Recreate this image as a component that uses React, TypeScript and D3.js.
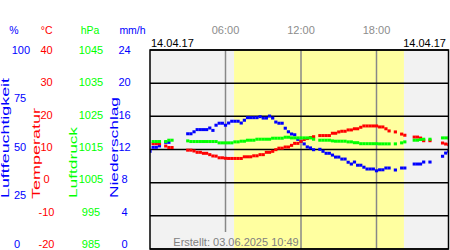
import React from "react";
import * as d3 from "d3";

const timeTickHours = [6, 12, 18];
const timeTickLabels = ["06:00", "12:00", "18:00"];
const dateLabel = "14.04.17";
const createdLabel = "Erstellt: 03.06.2025 10:49";
const sunriseHour = 6.68;
const sunsetHour = 20.18;

const humidityTicks = [100, 75, 50, 25, 0];
const temperatureTicks = [40, 30, 20, 10, 0, -10, -20];
const pressureTicks = [1045, 1035, 1025, 1015, 1005, 995, 985];
const precipTicks = [24, 20, 16, 12, 8, 4, 0];

// 15-minute samples, 00:00 .. 23:45
const humidity: (number | null)[] = [
  49.1, 51.1, 51.1, 51.8, null, 53.6, 53.6, null, null, null, null, null,
  57.9, 57.9, 58.9, 60.0, 60.0, 60.0, 60.0, 60.8, 59.6, 62.2, 63.2, 63.2,
  62.2, 63.3, 64.2, 64.2, 64.2, 63.3, 64.7, 66.0, 66.0, 66.0, 66.0, 66.5,
  65.8, 65.8, 66.8, 65.8, 63.8, 63.2, 63.2, 60.7, 58.9, 57.8, 57.4, 55.1,
  54.1, 52.8, 51.3, 50.8, 49.9, null, 50.1, 49.1, 48.1, 48.1, 47.2, 46.2,
  46.2, 45.2, 45.2, 43.6, 42.7, 43.7, 42.1, 42.1, 41.1, 40.2, 40.2, 40.2,
  39.3, 39.8, 39.8, 40.7, 40.7, null, 39.7, null, 40.7, 40.7, null, null,
  42.7, 42.7, 42.7, 43.7, null, 43.7, null, null, null, 46.6, 48.2, 49.1,
];

const temperature: (number | null)[] = [
  null, 11.75, 11.75, 11.75, null, 11.05, 10.6, 10.6, null, null, null, null,
  9.8, 9.8, 9.55, 9.15, 9.15, 8.85, 8.85, 8.45, 8.05, 8.0, 7.5, 7.5,
  7.35, 7.3, 7.3, 7.3, 7.3, 7.3, 7.8, 7.8, 7.8, 8.1, 8.1, 8.45,
  8.45, 9.15, 9.15, 9.45, 9.95, 10.4, 10.4, 10.75, 10.75, 11.25, 11.85, 11.85,
  12.45, 13.0, 13.3, 13.6, 13.85, null, 14.2, 14.2, 14.2, 14.2, 14.9, 14.9,
  15.3, 15.5, 15.5, 15.9, 15.9, 16.25, 16.25, 16.7, 17.1, 17.1, 17.1, 17.1,
  17.1, 16.8, 16.8, 16.25, 15.6, null, 15.3, null, 14.65, 14.3, null, null,
  13.75, 13.75, 13.45, 12.65, null, 12.65, null, null, null, 11.95, 11.65, 11.45,
];

const pressure: (number | null)[] = [
  null, 1017.4, 1017.4, 1017.4, null, 1017.4, 1017.8, 1017.8, null, null, null, null,
  1017.6, 1017.4, 1017.4, 1017.4, 1017.4, 1017.4, 1017.4, 1017.4, 1017.4, 1017.4, 1017.0, 1017.0,
  1017.0, 1017.0, 1017.0, 1017.3, 1017.3, 1017.5, 1017.5, 1017.8, 1017.8, 1017.8, 1018.1, 1018.1,
  1018.1, 1018.1, 1018.1, 1018.4, 1018.4, 1018.4, 1018.4, 1018.7, 1018.7, 1018.5, 1018.5, 1018.5,
  1018.5, 1018.5, 1018.5, 1018.5, 1018.1, null, 1017.8, 1017.8, 1017.8, 1017.8, 1017.6, 1017.5,
  1017.5, 1017.5, 1017.5, 1017.3, 1017.3, 1017.05, 1017.05, 1016.75, 1016.75, 1016.75, 1016.75, 1016.75,
  1016.75, 1016.7, 1016.7, 1016.7, 1016.7, null, 1016.7, null, 1017.0, 1017.3, null, null,
  1017.8, 1017.8, 1018.0, 1018.1, null, 1018.1, null, null, null, 1018.5, 1018.5, 1018.5,
];

const FONT = "'Liberation Sans', Arial, sans-serif";
const BLUE = "#0000ff";
const RED = "#ff0000";
const GREEN = "#00ff00";

export default function App() {
  const W = 450, H = 250;
  const left = 150, right = 448.5, top = 50, bottom = 249;

  const x = d3.scaleLinear().domain([0, 24]).range([150, 452]);
  const yHum = d3.scaleLinear().domain([0, 100]).range([bottom, top]);
  const yTemp = d3.scaleLinear().domain([-20, 40]).range([bottom, top]);
  const yPres = d3.scaleLinear().domain([985, 1045]).range([bottom, top]);

  // label scales (labels sit slightly above the gridlines in the original)
  const lHum = d3.scaleLinear().domain([0, 100]).range([244, 50]);
  const lTemp = d3.scaleLinear().domain([-20, 40]).range([244, 50]);
  const lPres = d3.scaleLinear().domain([985, 1045]).range([244, 50]);
  const lPrec = d3.scaleLinear().domain([0, 24]).range([244, 50]);

  const step = 0.25;
  const dotW = 3.2, dotH = 3;

  const dots = (vals: (number | null)[], y: d3.ScaleLinear<number, number>, color: string, key: string) =>
    vals.map((v, i) =>
      v == null ? null : (
        <rect key={key + i} x={x(i * step) - dotW / 2} y={y(v) - dotH / 2} width={dotW} height={dotH} fill={color} />
      )
    );

  return (
    <svg width={W} height={H} style={{ position: "absolute", left: 0, top: 0, background: "#fff" }} fontFamily={FONT}>
      <defs>
        <clipPath id="plotClip">
          <rect x={left} y={top} width={right - left} height={bottom - top} />
        </clipPath>
      </defs>

      {/* plot background */}
      <rect x={left} y={top} width={right - left} height={bottom - top} fill="#f2f2f2" />
      <rect x={x(sunriseHour)} y={top} width={x(sunsetHour) - x(sunriseHour)} height={bottom - top} fill="#ffffa0" />

      {/* vertical gridlines */}
      {timeTickHours.map((h) => (
        <line key={"v" + h} x1={x(h)} x2={x(h)} y1={top} y2={bottom} stroke="#888" strokeWidth={1.5} />
      ))}

      {/* created label background */}
      <rect x={172} y={232} width={x(sunriseHour) - 172} height={bottom - 232} fill="#f2f2f2" />

      {/* horizontal gridlines */}
      {temperatureTicks.map((t) => (
        <line key={"h" + t} x1={left} x2={right} y1={yTemp(t)} y2={yTemp(t)} stroke="#000" strokeWidth={1.5} />
      ))}

      <g clipPath="url(#plotClip)">
        {dots(humidity, yHum, BLUE, "hu")}
        {dots(temperature, yTemp, RED, "te")}
        {dots(pressure, yPres, GREEN, "pr")}
      </g>

      {/* plot border */}
      <rect x={left} y={top} width={right - left} height={bottom - top} fill="none" stroke="#000" strokeWidth={1.5} />

      <text x={(175 + 297) / 2} y={246} fontSize={11} fill="#808080" textAnchor="middle">{createdLabel}</text>

      {/* time labels */}
      {timeTickHours.map((h, i) => (
        <text key={"tl" + h} x={x(h)} y={34} fontSize={11} fill="#8c8c8c" textAnchor="middle">{timeTickLabels[i]}</text>
      ))}
      <text x={151} y={46.5} fontSize={11} fill="#000">{dateLabel}</text>
      <text x={446} y={46.5} fontSize={11} fill="#000" textAnchor="end">{dateLabel}</text>

      {/* unit headers */}
      <text x={14} y={34} fontSize={10.5} fill={BLUE} textAnchor="middle">%</text>
      <text x={46.7} y={34} fontSize={10.5} fill={RED} textAnchor="middle">°C</text>
      <text x={90} y={34} fontSize={10.5} fill={GREEN} textAnchor="middle">hPa</text>
      <text x={132.5} y={34} fontSize={10.5} fill={BLUE} textAnchor="middle">mm/h</text>

      {/* tick labels */}
      {humidityTicks.map((v) => (
        <text key={"hl" + v} x={String(v).length > 2 ? 11.7 : 14} y={lHum(v)} dy="0.35em" fontSize={11} fill={BLUE}>{v}</text>
      ))}
      {temperatureTicks.map((v) => (
        <text key={"tl" + v} x={46.5} y={lTemp(v)} dy="0.35em" fontSize={11} fill={RED} textAnchor="middle">{v}</text>
      ))}
      {pressureTicks.map((v) => (
        <text key={"pl" + v} x={91} y={lPres(v)} dy="0.35em" fontSize={11} fill={GREEN} textAnchor="middle">{v}</text>
      ))}
      {precipTicks.map((v) => (
        <text key={"nl" + v} x={124.5} y={lPrec(v)} dy="0.35em" fontSize={11} fill={BLUE} textAnchor="middle">{v}</text>
      ))}

      {/* rotated axis titles */}
      <text transform="translate(8.5,138) rotate(-90)" fontSize={10} fill={BLUE} textAnchor="middle" textLength={120} lengthAdjust="spacingAndGlyphs">Luftfeuchtigkeit</text>
      <text transform="translate(40,153.5) rotate(-90)" fontSize={10} fill={RED} textAnchor="middle" textLength={91} lengthAdjust="spacingAndGlyphs">Temperatur</text>
      <text transform="translate(77,162.5) rotate(-90)" fontSize={10} fill={GREEN} textAnchor="middle" textLength={71} lengthAdjust="spacingAndGlyphs">Luftdruck</text>
      <text transform="translate(117.5,147.5) rotate(-90)" fontSize={10} fill={BLUE} textAnchor="middle" textLength={101} lengthAdjust="spacingAndGlyphs">Niederschlag</text>
    </svg>
  );
}
